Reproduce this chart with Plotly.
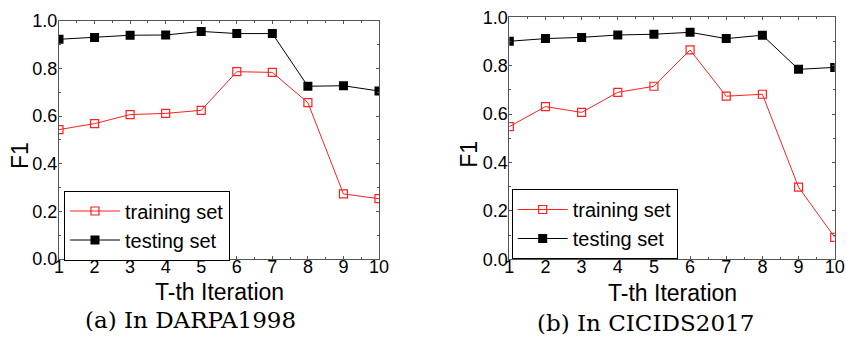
import plotly.graph_objects as go

iterations = [1, 2, 3, 4, 5, 6, 7, 8, 9, 10]
darpa_train = [0.543, 0.568, 0.606, 0.611, 0.624, 0.786, 0.783, 0.656, 0.273, 0.253]
darpa_test = [0.922, 0.930, 0.939, 0.940, 0.955, 0.946, 0.946, 0.725, 0.727, 0.705]
cic_train = [0.548, 0.631, 0.607, 0.690, 0.715, 0.865, 0.674, 0.682, 0.298, 0.091]
cic_test = [0.901, 0.912, 0.917, 0.927, 0.930, 0.938, 0.912, 0.926, 0.785, 0.793]
y_ticks = [0.0, 0.2, 0.4, 0.6, 0.8, 1.0]
captions = ["(a) In DARPA1998", "(b) In CICIDS2017"]

W, H = 847, 340
RED = "#ff2020"
SANS = "Liberation Sans, Arial, sans-serif"

fig = go.Figure()

def add_pair(train, test, xa, ya, legend):
    fig.add_trace(go.Scatter(
        x=iterations, y=train, name="training set", mode="lines+markers",
        line=dict(color=RED, width=1),
        marker=dict(symbol="square-open", size=8, color=RED, line=dict(width=1.2, color=RED)),
        xaxis=xa, yaxis=ya, legend=legend))
    fig.add_trace(go.Scatter(
        x=iterations, y=test, name="testing set", mode="lines+markers",
        line=dict(color="black", width=1),
        marker=dict(symbol="square", size=9, color="black"),
        xaxis=xa, yaxis=ya, legend=legend))

add_pair(darpa_train, darpa_test, "x", "y", "legend")
add_pair(cic_train, cic_test, "x2", "y2", "legend2")

tickfont = dict(family=SANS, size=18, color="black")
axcommon = dict(showgrid=False, zeroline=False, showline=True, linecolor="#555",
                linewidth=1, mirror="allticks", ticks="inside", ticklen=3,
                tickcolor="#555", tickfont=tickfont, automargin=False)

def xax(domain, anchor):
    return dict(domain=domain, anchor=anchor, range=[1, 10], tickmode="array",
                tickvals=iterations, ticktext=[str(v) for v in iterations],
                minor=dict(dtick=0.5, tick0=1, ticks="inside", ticklen=2, tickcolor="#555"),
                ticklabelstandoff=-9, **axcommon)

def yax(domain, anchor):
    return dict(domain=domain, anchor=anchor, range=[0, 1], tickmode="array",
                tickvals=y_ticks, ticktext=[f"{v:.1f}" for v in y_ticks],
                minor=dict(dtick=0.1, tick0=0, ticks="inside", ticklen=2, tickcolor="#555"),
                ticklabelstandoff=-3, **axcommon)

legend_common = dict(xanchor="left", yanchor="middle", bgcolor="white",
                     bordercolor="black", borderwidth=1,
                     font=dict(family=SANS, size=20, color="black"),
                     itemwidth=50, tracegroupgap=0)

fig.update_layout(
    width=W, height=H, margin=dict(l=0, r=0, t=0, b=0, autoexpand=False),
    paper_bgcolor="white", plot_bgcolor="white",
    xaxis=xax([59 / W, 379 / W], "y"),
    yaxis=yax([1 - 259 / H, 1 - 20.7 / H], "x"),
    xaxis2=xax([509.3 / W, 834.7 / W], "y2"),
    yaxis2=yax([1 - 259.3 / H, 1 - 17.3 / H], "x2"),
    legend=dict(x=64 / W, y=1 - 225.5 / H, **legend_common),
    legend2=dict(x=511.7 / W, y=1 - 224 / H, **legend_common),
    showlegend=True,
)

sans = dict(family=SANS, size=23, color="black")
serif = dict(family="DejaVu Serif, serif", size=23, color="black")
annots = [
    dict(x=219 / W, y=1 - 292 / H, text="T-th Iteration", font=sans),
    dict(x=672 / W, y=1 - 293 / H, text="T-th Iteration", font=sans),
    dict(x=20 / W, y=1 - 156 / H, text="F1", font=sans, textangle=-90),
    dict(x=468.7 / W, y=1 - 154 / H, text="F1", font=sans, textangle=-90),
    dict(x=190 / W, y=1 - 320 / H, text=captions[0], font=serif),
    dict(x=645.5 / W, y=1 - 323 / H, text=captions[1], font=serif),
]
for a in annots:
    fig.add_annotation(xref="paper", yref="paper", xanchor="center", yanchor="middle",
                       showarrow=False, **a)

fig.write_html("out.html", config={"displayModeBar": False},
               post_script="document.body.style.margin='0px';")
